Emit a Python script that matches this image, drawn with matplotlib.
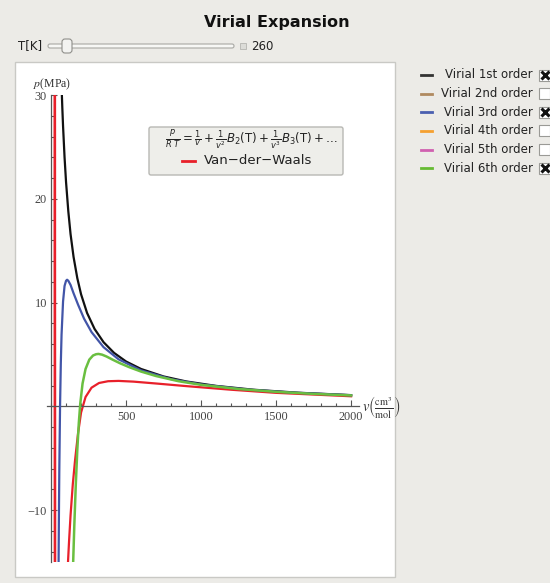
import matplotlib.pyplot as plt
import matplotlib.patches as patches
from matplotlib.ticker import MultipleLocator, FixedLocator

# ---------------------------------------------------------------------------
# data (v in cm^3/mol, p in MPa), T = 260 K
# ---------------------------------------------------------------------------
TEMP = 260

v_first = [70, 75, 80, 90, 100, 115, 130, 150, 175, 200, 240, 290, 350, 420,
           500, 600, 750, 900, 1100, 1350, 1650, 2000]
p_first = [30.9, 28.8, 27.0, 24.0, 21.6, 18.8, 16.6, 14.4, 12.35, 10.8, 9.0,
           7.46, 6.18, 5.15, 4.32, 3.60, 2.88, 2.40, 1.97, 1.60, 1.31, 1.08]

v_third = [50, 52, 55, 60, 65, 70, 80, 90, 100, 107, 115, 130, 150, 180, 220,
           270, 350, 450, 600, 800, 1000, 1300, 1600, 2000]
p_third = [-15.6, -11.3, -6.2, 0.0, 4.1, 6.9, 10.1, 11.6, 12.1, 12.2, 12.1,
           11.7, 10.9, 9.8, 8.45, 7.15, 5.7, 4.53, 3.46, 2.62, 2.11, 1.63,
           1.33, 1.07]

v_sixth = [147, 155, 165, 175, 185, 195, 210, 230, 255, 280, 300, 316, 340,
           370, 410, 460, 520, 600, 700, 850, 1000, 1250, 1500, 1750, 2000]
p_sixth = [-15.2, -11.5, -7.5, -4.2, -1.6, 0.3, 2.2, 3.6, 4.5, 4.9, 5.02, 5.05,
           4.98, 4.8, 4.5, 4.15, 3.78, 3.35, 2.92, 2.42, 2.07, 1.67, 1.40,
           1.20, 1.05]

# van der waals: steep branch near v = b, then the loop
v_vdw_a = [25.0, 25.3, 25.7, 26.2]
p_vdw_a = [31, 15, 0, -16]
v_vdw_b = [113, 120, 130, 145, 160, 180, 200, 230, 270, 320, 380, 450, 550,
           700, 900, 1200, 1500, 2000]
p_vdw_b = [-15, -13, -10.5, -7.5, -5.2, -2.6, -0.6, 0.9, 1.8, 2.25, 2.42, 2.45,
           2.38, 2.2, 1.95, 1.6, 1.3, 0.97]

legend_labels = ['Virial 1st order', 'Virial 2nd order', 'Virial 3rd order',
                 'Virial 4th order', 'Virial 5th order', 'Virial 6th order']
legend_colors = ['#333333', '#b08a60', '#4a5fb0', '#f5a030', '#d060b0', '#66bb33']
legend_checked = [True, False, True, False, False, True]

x_ticks = [500, 1000, 1500, 2000]
y_ticks = [-10, 10, 20, 30]

BG = '#ecebe7'

fig = plt.figure(figsize=(5.5, 5.83), dpi=100, facecolor=BG)

# background layer in pixel coords
bg = fig.add_axes([0, 0, 1, 1], zorder=0)
bg.set_xlim(0, 550)
bg.set_ylim(583, 0)
bg.axis('off')
bg.add_patch(patches.Rectangle((15, 62), 380, 515, facecolor='white',
                               edgecolor='#c9c9c5', linewidth=1))

# title + slider
bg.text(277, 22, 'Virial Expansion', ha='center', va='center',
        fontsize=11.5, fontweight='bold', color='#111111')
bg.text(18, 46, 'T[K]', ha='left', va='center', fontsize=8.5, color='#222222')
bg.add_patch(patches.FancyBboxPatch((48, 44), 186, 4,
                                    boxstyle='round,pad=0,rounding_size=2',
                                    facecolor='#f7f7f5', edgecolor='#a8a8a4',
                                    linewidth=0.8))
bg.add_patch(patches.FancyBboxPatch((62, 39), 10, 14,
                                    boxstyle='round,pad=0,rounding_size=3',
                                    facecolor='#f3f3f1', edgecolor='#8f8f8b',
                                    linewidth=0.8))
bg.add_patch(patches.Rectangle((240, 43), 6, 6, facecolor='#dcdcd8',
                               edgecolor='#b5b5b1', linewidth=0.6))
bg.text(251, 46, str(TEMP), ha='left', va='center', fontsize=8.5, color='#222222')

# main plot
ax = fig.add_axes([47 / 550, 21 / 583, 311.6 / 550, 467 / 583], zorder=1)
ax.patch.set_alpha(0)
ax.set_xlim(-27, 2050)
ax.set_ylim(-15, 30)

ax.plot(v_first, p_first, color='#111111', lw=1.6, zorder=3)
ax.plot(v_third, p_third, color='#4255a8', lw=1.6, zorder=3)
ax.plot(v_sixth, p_sixth, color='#6abf40', lw=1.8, zorder=4)
ax.plot(v_vdw_a, p_vdw_a, color='#e8202a', lw=1.9, zorder=2)
ax.plot(v_vdw_b, p_vdw_b, color='#e8202a', lw=1.6, zorder=2)

for s in ['top', 'right']:
    ax.spines[s].set_visible(False)
ax.spines['left'].set_position(('data', 0))
ax.spines['bottom'].set_position(('data', 0))
for s in ['left', 'bottom']:
    ax.spines[s].set_color('#555555')
    ax.spines[s].set_linewidth(0.9)

ax.xaxis.set_major_locator(FixedLocator(x_ticks))
ax.yaxis.set_major_locator(FixedLocator(y_ticks))
ax.xaxis.set_minor_locator(MultipleLocator(100))
ax.yaxis.set_minor_locator(MultipleLocator(2))
ax.tick_params(which='both', direction='in', color='#555555', width=0.8,
               labelsize=8.8, labelcolor='#444444', pad=3)
ax.tick_params(which='major', length=4)
ax.tick_params(which='minor', length=2.5)
ax.set_yticklabels(['\u221210', '10', '20', '30'])
for lab in ax.get_xticklabels() + ax.get_yticklabels():
    lab.set_family('Liberation Serif')

# foreground layer: axis labels, formula box, side legend
fg = fig.add_axes([0, 0, 1, 1], zorder=2)
fg.set_xlim(0, 550)
fg.set_ylim(583, 0)
fg.axis('off')

fg.text(33, 84, r'$p$(MPa)', ha='left', va='center', fontsize=8.5,
        family='Liberation Serif', math_fontfamily='stix', color='#333333')
fg.text(362, 407, r'$v\left(\frac{\mathrm{cm}^3}{\mathrm{mol}}\right)$',
        ha='left', va='center', fontsize=10.5, math_fontfamily='stix',
        color='#333333')

fg.add_patch(patches.FancyBboxPatch((149, 127), 194, 48,
                                    boxstyle='round,pad=0,rounding_size=2',
                                    facecolor='#eeeeea', edgecolor='#b8b8b4',
                                    linewidth=1))
fg.text(251, 140,
        r'$\frac{p}{R\ T}=\frac{1}{v}+\frac{1}{v^2}B_2(\mathrm{T})'
        r'+\frac{1}{v^3}B_3(\mathrm{T})+\ldots$',
        ha='center', va='center', fontsize=8.5, math_fontfamily='dejavusans',
        color='#222222')
fg.plot([182, 195], [161, 161], color='#e8202a', lw=2)
fg.text(204, 161, 'Van\u2212der\u2212Waals', ha='left', va='center',
        fontsize=9.5, color='#222222')

rows = [75, 93.5, 112, 130.5, 149.5, 168]
for y, lab, col, chk in zip(rows, legend_labels, legend_colors, legend_checked):
    fg.plot([421, 432], [y, y], color=col, lw=2)
    fg.text(533, y, lab, ha='right', va='center', fontsize=8.5, color='#222222')
    fg.add_patch(patches.Rectangle((539, y - 5.5), 11, 11, facecolor='white',
                                   edgecolor='#9a9a96', linewidth=0.8))
    if chk:
        fg.plot([544.5], [y], marker='x', markersize=5.5, mew=2.2,
                color='#111111')

fig.savefig('out.png', dpi=100, facecolor=BG)
